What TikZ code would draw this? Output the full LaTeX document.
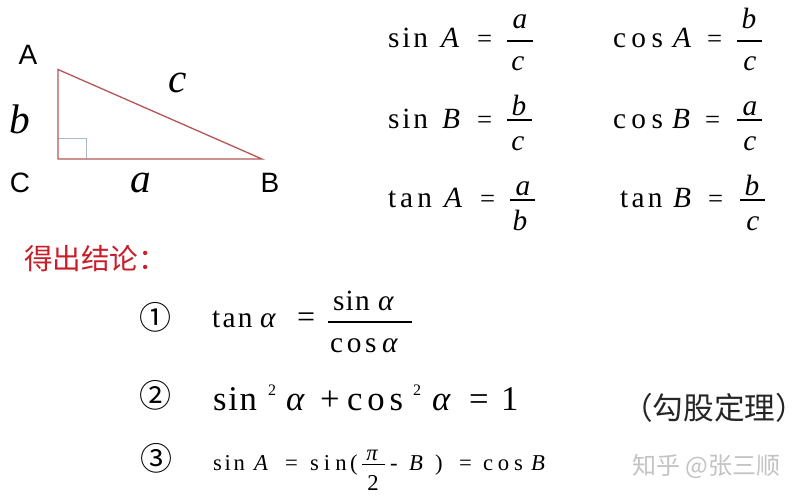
\documentclass[tikz,border=0pt]{standalone}
\usepackage{fontspec}
\setmainfont{Liberation Serif}
\newfontfamily\cjk{Noto Sans CJK SC}
\newfontfamily\arial{Liberation Sans}
\newcommand\sprd[2]{\makebox[#1][s]{#2}}
\definecolor{tri}{RGB}{180,88,88}
\definecolor{sq}{RGB}{170,185,205}
\definecolor{red1}{RGB}{200,30,40}
\definecolor{wm}{RGB}{195,195,195}
\begin{document}
\begin{tikzpicture}[x=0.75pt,y=-0.75pt,
  every node/.style={inner sep=0pt,outer sep=0pt},
  m/.style={anchor=base west,font=\fontsize{22}{24}\selectfont},
  eq/.style={anchor=base west,font=\fontsize{20}{24}\selectfont},
  mi/.style={anchor=base west,font=\fontsize{22}{24}\selectfont\itshape},
  mc/.style={anchor=base,font=\fontsize{22}{24}\selectfont\itshape},
  L/.style={anchor=base west,font=\fontsize{26}{28}\selectfont},
  Li/.style={anchor=base west,font=\fontsize{26}{28}\selectfont\itshape},
  s/.style={anchor=base west,font=\fontsize{17}{18}\selectfont},
  si/.style={anchor=base west,font=\fontsize{17}{18}\selectfont\itshape},
  big/.style={anchor=base west,font=\fontsize{31}{34}\selectfont\itshape},
  vlab/.style={anchor=center,font=\arial\fontsize{21}{22}\selectfont},
  fr/.style={line width=0.9pt},
  circ/.style={anchor=center,font=\cjk\fontsize{24}{26}\selectfont}]
\path[use as bounding box,fill=white] (0,0) rectangle (804,500);

% triangle
\coordinate (A) at (58,69.5);
\coordinate (C) at (58,159);
\coordinate (B) at (262,159);
\draw[sq,line width=0.6pt] (58,138) -- (86,138) -- (86,159);
\draw[tri,line width=1pt,line join=miter] (A) -- (C) -- (B) -- cycle;
\node[vlab] (lA) at (28,55) {A};
\node[vlab] (lC) at (20,182.5) {C};
\node[vlab] (lB) at (270,182.5) {B};
\node[big] (lb) at (9,133) {b};
\node[big] (la) at (130,192) {a};
\node[big] (lc) at (168,92) {c};

% row 1
\node[m] (s1) at (388,47) {\sprd{30pt}{s\hfil i\hfil n}};
\node[mi] (s1A) at (441,47) {A};
\node[eq] (s1e) at (477,47) {=};
\draw[fr] (507,41) -- (533,41);
\node[mc] (s1n) at (520,28) {a};
\node[mc] (s1d) at (518,70) {c};

\node[m] (c1) at (613,47) {\sprd{37.5pt}{c\hfil o\hfil s}};
\node[mi] (c1A) at (673,47) {A};
\node[eq] (c1e) at (707,47) {=};
\draw[fr] (737,41) -- (762,41);
\node[mc] (c1n) at (749,28) {b};
\node[mc] (c1d) at (750,70) {c};

% row 2
\node[m] (s2) at (388,128) {\sprd{30pt}{s\hfil i\hfil n}};
\node[mi] (s2B) at (442,128) {B};
\node[eq] (s2e) at (477,128) {=};
\draw[fr] (507,120) -- (532,120);
\node[mc] (s2n) at (519,115) {b};
\node[mc] (s2d) at (518,150) {c};

\node[m] (c2) at (613,128) {\sprd{37.5pt}{c\hfil o\hfil s}};
\node[mi] (c2B) at (672,128) {B};
\node[eq] (c2e) at (705,128) {=};
\draw[fr] (737,120) -- (762,120);
\node[mc] (c2n) at (750,115) {a};
\node[mc] (c2d) at (750,150) {c};

% row 3
\node[m] (t3) at (388,207) {\sprd{33pt}{t\hfil a\hfil n}};
\node[mi] (t3A) at (444,207) {A};
\node[eq] (t3e) at (480,207) {=};
\draw[fr] (510,200) -- (535,200);
\node[mc] (t3n) at (523,195) {a};
\node[mc] (t3d) at (520,230) {b};

\node[m] (u3) at (620,207) {\sprd{32pt}{t\hfil a\hfil n}};
\node[mi] (u3B) at (673,207) {B};
\node[eq] (u3e) at (708,207) {=};
\draw[fr] (740,200) -- (765,200);
\node[mc] (u3n) at (752,195) {b};
\node[mc] (u3d) at (753,230) {c};

% conclusion
\node[anchor=west,text=red1,font=\cjk\fontsize{21.5}{23}\selectfont] (concl) at (24,259) {得出结论：};

\node[circ] (n1) at (155,317) {①};
\node[circ] (n2) at (155,395) {②};
\node[circ] (n3) at (156,458) {③};

% formula 1
\node[m] (f1t) at (212,327) {\sprd{30.5pt}{t\hfil a\hfil n}};
\node[mi] (f1a) at (260,327) {α};
\node[anchor=base west,font=\fontsize{24}{26}\selectfont] (f1e) at (297,327) {=};
\draw[fr] (328,322) -- (412,322);
\node[m] (f1ns) at (333,310) {\sprd{27.5pt}{s\hfil i\hfil n}};
\node[mi] (f1na) at (378,310) {α};
\node[m] (f1dc) at (330,352) {\sprd{35pt}{c\hfil o\hfil s}};
\node[mi] (f1da) at (382,352) {α};

% formula 2
\node[L] (f2s) at (213,410) {\sprd{33pt}{s\hfil i\hfil n}};
\node[anchor=base west,font=\fontsize{12}{14}\selectfont] (f2p1) at (268,395) {2};
\node[Li] (f2a1) at (286,410) {α};
\node[L] (f2pl) at (320,410) {+};
\node[L] (f2c) at (347,410) {\sprd{42pt}{c\hfil o\hfil s}};
\node[anchor=base west,font=\fontsize{12}{14}\selectfont] (f2p2) at (413,395) {2};
\node[Li] (f2a2) at (432,410) {α};
\node[L] (f2e) at (469,410) {=};
\node[L] (f2one) at (501,410) {1};

\node[anchor=west,font=\cjk\fontsize{23}{25}\selectfont,text=black!85] (gougu) at (622,408) {（勾股定理）};

% formula 3
\node[s] (f3s) at (213,470) {\sprd{24pt}{s\hfil i\hfil n}};
\node[si] (f3A) at (254,470) {A};
\node[s] (f3e) at (285,470) {=};
\node[s] (f3s2) at (310,470) {\sprd{27.5pt}{s\hfil i\hfil n}};
\node[s] (f3lp) at (350,470) {(};
\draw[line width=0.7pt] (362,464) -- (385,464);
\node[anchor=base,font=\fontsize{17}{18}\selectfont\itshape] (f3pi) at (372,460) {π};
\node[anchor=base,font=\fontsize{17}{18}\selectfont] (f3two) at (373,490) {2};
\node[s] (f3m) at (390,470) {-};
\node[si] (f3B) at (409,470) {B};
\node[s] (f3rp) at (435,470) {)};
\node[s] (f3e2) at (459,470) {=};
\node[s] (f3c) at (483,470) {\sprd{30pt}{c\hfil o\hfil s}};
\node[si] (f3B2) at (531,470) {B};

% watermark
\node[anchor=west,font=\cjk\fontsize{18}{20}\selectfont,text=wm] (wmk) at (632,466) {知乎 @张三顺};
\end{tikzpicture}
\end{document}
